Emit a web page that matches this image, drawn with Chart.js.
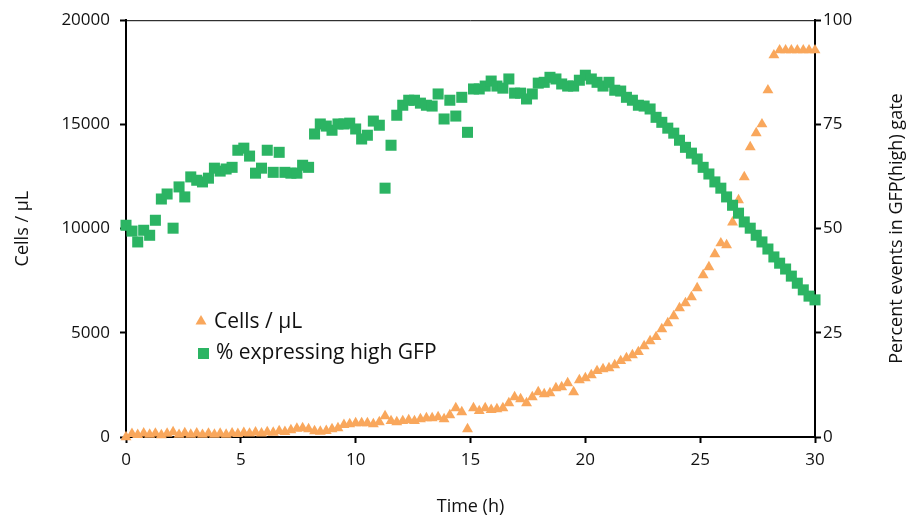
<!DOCTYPE html>
<html>
<head>
<meta charset="utf-8">
<script src="https://cdn.jsdelivr.net/npm/chart.js@4/dist/chart.umd.min.js"></script>
<style>
  body { margin: 0; background: #fff; }
  #wrap { width: 909px; height: 519px; position: relative; }
</style>
</head>
<body>
<div id="wrap"><canvas id="myChart"></canvas></div>
<script>
  // sampling times (h)
  const times = [0, 0.26, 0.51, 0.77, 1.03, 1.28, 1.54, 1.79, 2.05, 2.31,
    2.56, 2.82, 3.08, 3.33, 3.59, 3.85, 4.10, 4.36, 4.62, 4.87,
    5.13, 5.38, 5.64, 5.90, 6.15, 6.41, 6.67, 6.92, 7.18, 7.44,
    7.69, 7.95, 8.21, 8.46, 8.72, 8.97, 9.23, 9.49, 9.74, 10.00,
    10.26, 10.51, 10.77, 11.03, 11.28, 11.54, 11.79, 12.05, 12.31, 12.56,
    12.82, 13.08, 13.33, 13.59, 13.85, 14.10, 14.36, 14.62, 14.87, 15.13,
    15.38, 15.64, 15.90, 16.15, 16.41, 16.67, 16.92, 17.18, 17.44, 17.69,
    17.95, 18.21, 18.46, 18.72, 18.97, 19.23, 19.49, 19.74, 20.00, 20.26,
    20.51, 20.77, 21.03, 21.28, 21.54, 21.79, 22.05, 22.31, 22.56, 22.82,
    23.08, 23.33, 23.59, 23.85, 24.10, 24.36, 24.62, 24.87, 25.13, 25.38,
    25.64, 25.90, 26.15, 26.41, 26.67, 26.92, 27.18, 27.44, 27.69, 27.95,
    28.21, 28.46, 28.72, 28.97, 29.23, 29.49, 29.74, 30.00];

  // Cells / uL (left axis)
  const cells = [0, 150, 100, 180, 120, 170, 90, 160, 240, 110,
    190, 120, 180, 110, 170, 120, 160, 120, 180, 150,
    200, 170, 220, 180, 240, 210, 280, 250, 330, 400,
    430, 380, 280, 260, 300, 380, 430, 580, 620, 670,
    670, 670, 620, 720, 1000, 770, 720, 770, 810, 770,
    860, 910, 910, 960, 860, 1050, 1390, 1200, 380, 1390,
    1250, 1390, 1300, 1340, 1390, 1630, 1920, 1820, 1630, 1920,
    2160, 2060, 2110, 2350, 2400, 2590, 2160, 2730, 2830, 2970,
    3170, 3260, 3310, 3450, 3650, 3790, 3930, 4080, 4360, 4600,
    4800, 5180, 5470, 5800, 6190, 6430, 6710, 7150, 7770, 8150,
    8780, 9300, 9210, 10300, 11370, 12470, 13910, 14580, 15010, 16640,
    18320, 18560, 18560, 18560, 18560, 18560, 18560, 18560];

  // % events in GFP(high) gate (right axis)
  const gfpHigh = [50.8, 49.4, 46.8, 49.6, 48.4, 52.0, 57.1, 58.3, 50.1, 60.0,
    57.6, 62.4, 61.6, 61.2, 62.1, 64.5, 63.8, 64.3, 64.7, 68.8,
    69.3, 67.4, 63.3, 64.5, 68.8, 63.5, 68.3, 63.5, 63.3, 63.3,
    65.2, 64.7, 72.7, 75.1, 74.6, 73.6, 75.1, 75.1, 75.3, 73.9,
    71.5, 72.4, 75.8, 74.8, 59.7, 70.0, 77.2, 79.6, 80.8, 80.8,
    80.1, 79.6, 79.4, 82.3, 76.3, 80.8, 77.0, 81.5, 73.1, 83.5,
    83.5, 84.2, 85.4, 84.2, 83.7, 85.9, 82.5, 82.5, 81.1, 82.3,
    84.9, 85.1, 86.3, 85.9, 84.7, 84.2, 84.2, 85.6, 86.8, 85.9,
    85.1, 84.2, 85.1, 83.2, 83.0, 81.5, 80.8, 79.6, 79.4, 78.7,
    76.7, 75.5, 74.1, 72.9, 71.2, 69.5, 68.1, 66.7, 64.7, 63.1,
    61.2, 59.7, 57.6, 55.6, 53.7, 51.6, 50.1, 48.4, 46.8, 45.1,
    43.2, 41.7, 40.3, 38.6, 36.9, 35.3, 33.8, 32.9];

  const xTicks = [0, 5, 10, 15, 20, 25, 30];
  const leftTicks = [0, 5000, 10000, 15000, 20000];
  const rightTicks = [0, 25, 50, 75, 100];

  const seriesNames = ['Cells / \u00b5L', '% expressing high GFP'];
  const xTitle = 'Time (h)';
  const leftTitle = 'Cells / \u00b5L';
  const rightTitle = 'Percent events in GFP(high) gate';

  const orange = '#F9A75C';
  const green = '#2BB463';

  Chart.defaults.font.family = "'Open Sans', sans-serif";
  Chart.defaults.color = '#111';

  function setTicks(list) {
    return function (scale) {
      scale.ticks = list.map(function (v) { return { value: v }; });
    };
  }

  // legend inside the plot, right axis title (reads bottom to top), top frame line
  const overlay = {
    id: 'overlay',
    afterDatasetsDraw: function (chart) {
      const ctx = chart.ctx, a = chart.chartArea;
      ctx.save();
      ctx.strokeStyle = '#000';
      ctx.lineWidth = 1;
      ctx.beginPath();
      ctx.moveTo(a.left, a.top + 0.5);
      ctx.lineTo(a.right, a.top + 0.5);
      ctx.stroke();

      ctx.font = "21px 'Open Sans', sans-serif";
      ctx.textBaseline = 'middle';
      ctx.textAlign = 'left';

      // triangle marker
      ctx.fillStyle = orange;
      ctx.beginPath();
      ctx.moveTo(201, 315);
      ctx.lineTo(206.5, 324.5);
      ctx.lineTo(195.5, 324.5);
      ctx.closePath();
      ctx.fill();
      ctx.fillStyle = '#111';
      ctx.fillText(seriesNames[0], 214, 322);

      // square marker
      ctx.fillStyle = green;
      ctx.fillRect(198, 348, 11, 11);
      ctx.fillStyle = '#111';
      ctx.fillText(seriesNames[1], 216, 353);

      // right axis title
      ctx.font = "18px 'Open Sans', sans-serif";
      ctx.translate(897, (a.top + a.bottom) / 2);
      ctx.rotate(-Math.PI / 2);
      ctx.textAlign = 'center';
      ctx.fillText(rightTitle, 0, 0);
      ctx.restore();
    }
  };

  const axisLine = { display: true, color: '#000', width: 2 };
  const tickMarks = { display: true, drawOnChartArea: false, drawTicks: true, tickLength: 6, tickWidth: 2, tickColor: '#000' };

  const config = {
    type: 'scatter',
    data: {
      datasets: [{
        label: seriesNames[1],
        data: times.map(function (t, i) { return { x: t, y: gfpHigh[i] }; }),
        yAxisID: 'y1',
        pointStyle: 'rect',
        pointRadius: 7.8,
        pointHoverRadius: 7.8,
        backgroundColor: green,
        borderWidth: 0,
        clip: false
      }, {
        label: seriesNames[0],
        data: times.map(function (t, i) { return { x: t, y: cells[i] }; }),
        yAxisID: 'y',
        pointStyle: 'triangle',
        pointRadius: 6.3,
        pointHoverRadius: 6.3,
        backgroundColor: orange,
        borderWidth: 0,
        clip: false
      }]
    },
    options: {
      responsive: true,
      maintainAspectRatio: false,
      animation: false,
      layout: { padding: { top: 20, left: 0, right: 0, bottom: 0 } },
      plugins: { legend: { display: false }, tooltip: { enabled: false } },
      scales: {
        x: {
          type: 'linear',
          min: 0, max: 30,
          afterBuildTicks: setTicks(xTicks),
          afterFit: function (s) { s.height = 82; },
          border: axisLine,
          grid: tickMarks,
          ticks: { padding: 7, font: { size: 17 }, color: '#111' },
          title: { display: true, text: xTitle, font: { size: 18 }, color: '#111', padding: { top: 0, bottom: 1 } }
        },
        y: {
          position: 'left',
          min: 0, max: 20000,
          afterBuildTicks: setTicks(leftTicks),
          afterFit: function (s) { s.width = 126; },
          border: axisLine,
          grid: tickMarks,
          ticks: { padding: 10, font: { size: 17 }, color: '#111', callback: function (v) { return String(v); } },
          title: { display: true, text: leftTitle, font: { size: 18 }, color: '#111', padding: { top: 12, bottom: 0 } }
        },
        y1: {
          position: 'right',
          min: 0, max: 100,
          afterBuildTicks: setTicks(rightTicks),
          afterFit: function (s) { s.width = 94; },
          border: axisLine,
          grid: tickMarks,
          ticks: { padding: 2, font: { size: 17 }, color: '#111', callback: function (v) { return String(v); } }
        }
      }
    },
    plugins: [overlay]
  };

  const myChart = new Chart(document.getElementById('myChart'), config);
</script>
</body>
</html>
